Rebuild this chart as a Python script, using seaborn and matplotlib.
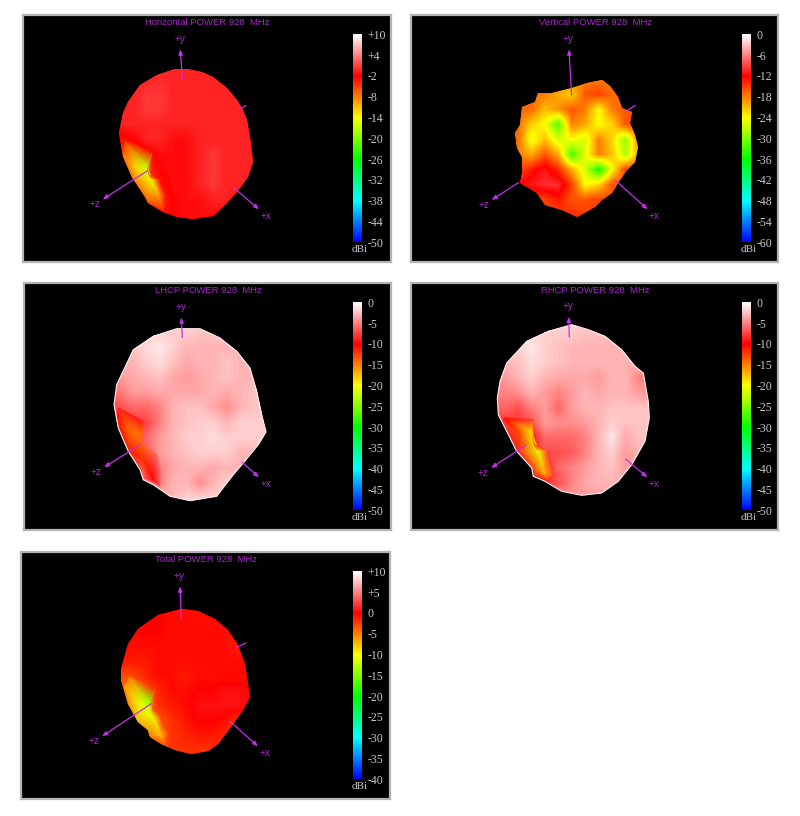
import numpy as np
import pandas as pd
import seaborn as sns
import matplotlib
matplotlib.use('Agg')
import matplotlib.pyplot as plt
from matplotlib.colors import LinearSegmentedColormap
from matplotlib.patches import Polygon

# dB, columns x=300..740 step 40, rows y=162..657 step 45
# (x, y are in px of the 3x crops of each panel)
horizontal_db = [
    [-0.5, -0.5, -0.5, -0.5, -0.5, -0.5, -0.5, -0.5, -0.5, -0.5, -0.5, -0.5],
    [-0.5, -0.5, -0.5, 0, -0.5, -0.5, -0.5, -0.5, -0.5, -0.5, -0.5, -0.5],
    [-0.5, -0.5, 0.5, 0.5, -0.5, -0.5, -0.5, -0.5, -0.5, -0.5, -0.5, -0.5],
    [-0.5, -0.5, 0.5, 0.5, -0.5, -0.5, -0.5, -0.5, -0.5, -0.5, -0.5, -0.5],
    [-0.5, -0.5, -0.5, -0.5, -0.5, -0.5, -0.5, -0.5, -0.5, -0.5, -0.5, -0.5],
    [-3, -2, -0.5, -0.5, -1.5, -1.5, -0.5, -0.5, -0.5, -0.5, -0.5, -0.5],
    [-5, -5, -3, -1.5, -1.5, -1.5, -0.5, 0.5, -0.5, -0.5, -0.5, -0.5],
    [-6, -7, -5, -2, -1.5, -1.5, -0.5, 0.5, -0.5, -0.5, -0.5, -0.5],
    [-6, -7, -6, -3, -1.5, -1.5, -0.5, 0.5, -0.5, -0.5, -0.5, -0.5],
    [-5, -5, -5, -4, -2, -1.5, -1.5, -0.5, -0.5, -1.5, -1.5, -1.5],
    [-3, -3, -3, -3, -2, -1.5, -1.5, -1.5, -1.5, -1.5, -1.5, -1.5],
    [-3, -3, -3, -3, -2, -1.5, -1.5, -1.5, -1.5, -1.5, -1.5, -1.5],
]
vertical_db = [
    [-18, -18, -18, -18, -18, -18, -18, -18, -18, -18, -18, -18],
    [-18, -18, -18, -18, -18, -18, -18, -18, -18, -18, -18, -18],
    [-17, -17, -17, -18, -20, -22, -16, -15, -17, -17, -17, -17],
    [-17, -17, -17, -21, -19, -16, -18, -24, -18, -16, -16, -16],
    [-17, -17, -22, -24, -32, -18, -20, -24, -22, -16, -16, -16],
    [-17, -17, -25, -21, -26, -24, -26, -18, -22, -29, -18, -18],
    [-18, -18, -20, -16, -20, -33, -25, -18, -21, -28, -19, -19],
    [-16, -16, -13, -11, -14, -20, -26, -35, -24, -15, -17, -17],
    [-12, -12, -11, -10, -10, -15, -24, -22, -16, -16, -16, -16],
    [-14, -14, -15, -15, -13, -16, -16, -15, -16, -16, -16, -16],
    [-15, -15, -15, -15, -15, -14, -15, -15, -15, -15, -15, -15],
    [-15, -15, -15, -15, -15, -14, -15, -15, -15, -15, -15, -15],
]
lhcp_db = [
    [-2, -2, -2, -2, -2, -2, -2.5, -2.5, -2.5, -3, -3, -3],
    [-2.5, -2.5, -1.5, -1, -2, -3, -3, -3, -3, -3, -3, -3],
    [-3, -3, -2, -1.5, -2.5, -3.5, -3, -3, -2.5, -3, -3, -3],
    [-4, -3.5, -3, -2.5, -3.5, -4, -3.5, -3, -2.5, -3, -3, -3],
    [-5.5, -4, -4, -3.5, -3.5, -3.5, -3.5, -3, -3.5, -3, -2.5, -2.5],
    [-7, -6, -6, -5, -3, -2.5, -2.5, -3.5, -4.5, -3, -2.5, -2.5],
    [-8, -8, -7.5, -5, -3, -2.5, -2, -2, -3, -2, -2, -2],
    [-8, -8, -6, -4, -3, -2, -2, -1.5, -2, -2, -2, -2],
    [-8, -8, -6.5, -4, -3, -2.5, -2, -2, -2, -3, -3, -3],
    [-8, -8, -7, -5, -3.5, -3, -3, -3.5, -3, -3, -3, -3],
    [-6, -6, -6, -5, -3, -3, -4.5, -3, -2, -2, -2, -2],
    [-3, -3, -3, -3, -3, -2, -2, -2, -2, -2, -2, -2],
]
rhcp_db = [
    [-2, -2, -2, -2, -2, -2, -2.5, -2.5, -3, -3, -3, -3],
    [-2, -2, -1, -2, -2.5, -3, -3, -3, -3, -3, -3, -3],
    [-3, -2.5, -1.5, -2, -2.5, -3, -3, -3, -3, -3, -3, -3],
    [-4, -3, -2, -3, -3.5, -3.5, -3.5, -4, -3, -3, -5, -5],
    [-5, -4.5, -3, -4, -5, -4, -3, -3.5, -3, -3, -4, -4],
    [-6, -7, -5, -4, -6, -4, -3, -3, -2.5, -2.5, -2.5, -2.5],
    [-8, -8, -7, -4, -4.5, -4.5, -4, -3, -2, -2.5, -2.5, -2.5],
    [-8, -9, -9, -6, -6, -6, -5, -3, -1, -3.5, -2.5, -2.5],
    [-8, -9, -8, -7, -7, -6.5, -5, -3, -2, -4, -3, -3],
    [-8, -8, -8, -8, -6, -5, -4, -3, -2.5, -4, -4, -4],
    [-8, -8, -8, -8, -7, -5, -3.5, -3, -3, -3, -3, -3],
    [-4, -4, -4, -4, -4, -4, -4, -4, -4, -4, -4, -4],
]
total_db = [
    [-0.5, -0.5, -0.5, -0.5, -0.5, -0.5, -0.5, -0.5, -0.5, -0.5, -0.5, -0.5],
    [-0.5, -0.5, -0.5, 0, -0.5, -0.5, -0.5, -0.5, -0.5, -0.5, -0.5, -0.5],
    [-0.5, -0.5, 0, 0, -0.5, -0.5, -0.5, -0.5, -0.5, -0.5, -0.5, -0.5],
    [-0.5, -0.5, -0.5, -0.5, -0.5, -0.5, -0.5, -0.5, -0.5, -1, -2, -2],
    [-1, -1, -1, -0.5, -0.5, -0.5, -0.5, -0.5, -0.5, -0.5, -0.5, -0.5],
    [-3, -3, -1.5, -0.5, -0.5, -1, -0.5, -0.5, -0.5, -0.5, -0.5, -0.5],
    [-5, -5, -4, -1.5, -0.5, -0.5, 0, 0, 0.5, 0.5, 0, 0],
    [-5, -6, -6, -2, -1, -0.5, 0.5, 0.5, 0.5, 0.5, 0, 0],
    [-5, -6, -6, -4, -2, -1, 0, 0, -0.5, -2, -1, -1],
    [-5, -5, -5, -4, -2, -1.5, -1, -1, -1.5, -3, -2, -2],
    [-3, -3, -3, -3, -2, -2, -2, -2, -2, -2, -2, -2],
    [-2, -2, -2, -2, -2, -2, -2, -2, -2, -2, -2, -2],
]

# outlines of the bodies, crop px
horizontal_edge = [(465, 178), (500, 176), (545, 185), (580, 200), (620, 235), (650, 270), (668, 300), (680, 330), (690, 380), (700, 455), (685, 500), (650, 545), (610, 590), (580, 618), (520, 628), (470, 620), (430, 605), (385, 580), (375, 560), (335, 500), (310, 440), (298, 370), (310, 310), (325, 275), (360, 225), (410, 195)]
vertical_edge = [(400, 250), (440, 248), (500, 235), (545, 220), (590, 210), (615, 228), (640, 262), (650, 295), (680, 305), (675, 340), (690, 375), (700, 410), (690, 455), (665, 480), (640, 520), (620, 550), (590, 570), (570, 590), (515, 620), (470, 600), (420, 585), (395, 550), (345, 520), (350, 490), (350, 440), (335, 415), (330, 370), (345, 345), (350, 290), (390, 275)]
lhcp_edge = [(470, 152), (540, 152), (600, 180), (650, 220), (690, 270), (710, 340), (725, 410), (738, 462), (715, 500), (670, 555), (640, 590), (590, 655), (510, 668), (450, 655), (400, 620), (370, 605), (360, 575), (325, 520), (295, 450), (282, 380), (290, 320), (340, 215), (400, 175)]
rhcp_edge = [(500, 140), (550, 155), (600, 175), (650, 215), (690, 265), (715, 285), (730, 370), (733, 420), (720, 490), (680, 560), (640, 610), (590, 645), (530, 652), (470, 640), (420, 610), (385, 595), (380, 570), (335, 520), (300, 450), (280, 410), (277, 360), (285, 310), (305, 255), (365, 190), (430, 160)]
total_edge = [(490, 187), (540, 192), (590, 215), (630, 250), (660, 295), (680, 350), (695, 450), (675, 490), (640, 540), (600, 590), (570, 612), (520, 620), (470, 610), (430, 590), (395, 570), (390, 550), (360, 525), (330, 470), (310, 400), (308, 365), (330, 290), (360, 245), (420, 205)]

# the creased null near +z: (x, y, dB) per vertex, same triangles in each panel
horizontal_null = [(316, 395, -5), (381, 470, -17), (398, 425, -2), (388, 495, -5), (345, 470, -12), (310, 440, -7), (340, 510, -8), (395, 510, -15), (415, 550, -10), (380, 575, -6), (430, 600, -4), (420, 510, -2), (440, 560, -2)]
lhcp_null = [(295, 390, -9), (365, 475, -15), (370, 430, -9), (360, 495, -14), (325, 460, -14), (290, 440, -10), (325, 520, -11), (365, 535, -12), (400, 605, -10), (370, 600, -6), (420, 625, -6), (410, 530, -6), (425, 580, -5)]
rhcp_null = [(300, 420, -10), (380, 465, -19), (385, 425, -8), (388, 500, -12), (345, 470, -13), (290, 430, -8), (335, 520, -9), (400, 520, -21), (418, 585, -17), (385, 590, -9), (430, 610, -9), (430, 520, -8), (450, 590, -8)]
total_null = [(335, 390, -5), (395, 465, -14), (410, 425, -1.5), (400, 490, -6), (365, 470, -11), (320, 420, -6), (355, 520, -7), (405, 510, -11), (430, 565, -7), (395, 565, -5), (440, 595, -3), (430, 510, -2), (455, 560, -2)]
null_tri = [(0, 2, 1), (0, 1, 4), (0, 4, 5), (5, 4, 6), (4, 1, 7), (4, 7, 6), (1, 2, 3), (1, 3, 7), (3, 11, 7),
            (7, 11, 8), (11, 12, 8), (8, 12, 10), (8, 10, 9), (7, 8, 9), (6, 7, 9)]

titles = ['Horizontal POWER 928  MHz', 'Vertical POWER 928  MHz', 'LHCP POWER 928  MHz',
          'RHCP POWER 928  MHz', 'Total POWER 928  MHz']
horizontal_ticks = ['+10', '+4', '-2', '-8', '-14', '-20', '-26', '-32', '-38', '-44', '-50']
vertical_ticks = ['0', '-6', '-12', '-18', '-24', '-30', '-36', '-42', '-48', '-54', '-60']
cp_ticks = ['0', '-5', '-10', '-15', '-20', '-25', '-30', '-35', '-40', '-45', '-50']
total_ticks = ['+10', '+5', '0', '-5', '-10', '-15', '-20', '-25', '-30', '-35', '-40']

TEXT_PURPLE = '#a828c8'
ARROW = '#c430e8'
FRAME = '#b4b4b4'

cmap = LinearSegmentedColormap.from_list('power', [(0, '#0000ff'), (0.2, '#00ffff'), (0.4, '#00ff00'),
                                                   (0.6, '#ffff00'), (0.8, '#ff0000'), (1, '#ffffff')])

# crop origin, frame l/r, colorbar l/r, axis arrows, stub
panels = [
    dict(values=horizontal_db, edge=horizontal_edge, null=horizontal_null, rim=False, ticks=horizontal_ticks,
         title=titles[0], org=(20, 10), frame=(8, 1112), bar=(1000, 1027), y=((487, 208), (481, 118)),
         z=((383, 482), (248, 568)), x=((640, 532), (717, 598)), stub=((660, 297), (678, 287))),
    dict(values=vertical_db, edge=vertical_edge, null=None, rim=False, ticks=vertical_ticks,
         title=titles[1], org=(405, 10), frame=(18, 1118), bar=(1012, 1038), y=((500, 258), (492, 118)),
         z=((340, 518), (260, 570)), x=((630, 510), (728, 598)), stub=((665, 302), (690, 287))),
    dict(values=lhcp_db, edge=lhcp_edge, null=lhcp_null, rim=True, ticks=cp_ticks,
         title=titles[2], org=(20, 278), frame=(12, 1112), bar=(1000, 1027), y=((487, 178), (484, 118)),
         z=((360, 500), (252, 568)), x=((667, 553), (717, 598)), stub=None),
    dict(values=rhcp_db, edge=rhcp_edge, null=rhcp_null, rim=True, ticks=cp_ticks,
         title=titles[3], org=(405, 278), frame=(18, 1118), bar=(1012, 1038), y=((493, 177), (491, 116)),
         z=((362, 502), (258, 570)), x=((662, 543), (727, 598)), stub=None),
    dict(values=total_db, edge=total_edge, null=total_null, rim=False, ticks=total_ticks,
         title=titles[4], org=(18, 547), frame=(10, 1116), bar=(1005, 1032), y=((490, 215), (486, 118)),
         z=((400, 470), (252, 568)), x=((635, 522), (720, 598)), stub=((655, 302), (683, 288))),
]

fig = plt.figure(figsize=(8, 8.16), dpi=100, facecolor='white')


def place(org, left, right, top, bottom):
    # crop px -> figure fraction
    x0 = (org[0] + left / 3) / 800
    x1 = (org[0] + right / 3) / 800
    y0 = 1 - (org[1] + bottom / 3) / 816
    y1 = 1 - (org[1] + top / 3) / 816
    return [x0, y0, x1 - x0, y1 - y0]


def tick_value(label):
    return float(label.replace('+', ''))


for p in panels:
    org = p['org']
    left, right = p['frame']

    back = fig.add_axes(place(org, left, right, 15, 757), facecolor='black', zorder=0)
    back.set_xticks([])
    back.set_yticks([])
    for s in back.spines.values():
        s.set_color(FRAME)
        s.set_linewidth(1.6)

    # overlay in crop px for arrows and texts
    top_ax = fig.add_axes(place(org, left, right, 15, 757), facecolor='none', zorder=3)
    top_ax.set_xlim(left, right)
    top_ax.set_ylim(757, 15)
    top_ax.axis('off')

    heat_ax = fig.add_axes(place(org, 280, 760, 140, 680), zorder=1)
    heat_ax.patch.set_visible(False)
    cax = fig.add_axes(place(org, p['bar'][0], p['bar'][1], 73, 697), zorder=2)

    vals = [tick_value(t) for t in p['ticks']]
    df = pd.DataFrame(p['values'])
    sns.heatmap(df, cmap=cmap, vmin=vals[-1], vmax=vals[0], ax=heat_ax, cbar_ax=cax,
                xticklabels=False, yticklabels=False, cbar_kws={'ticks': vals})

    body = Polygon(p['edge'], closed=True, transform=top_ax.transData)
    mesh = heat_ax.collections[0]
    mesh.set_clip_path(body)
    # same cells, smoothed by the renderer and put over the mesh
    im = heat_ax.imshow(df.values, cmap=cmap, vmin=vals[-1], vmax=vals[0], interpolation='bilinear',
                        extent=(0, df.shape[1], df.shape[0], 0), aspect='auto', zorder=2)
    im.set_clip_path(body)
    heat_ax.set_xlim(0, df.shape[1])
    heat_ax.set_ylim(df.shape[0], 0)
    heat_ax.axis('off')

    if p['null'] is not None:
        nx, ny, ndb = zip(*p['null'])
        tri = top_ax.tripcolor(nx, ny, null_tri, ndb, shading='gouraud', cmap=cmap, vmin=vals[-1], vmax=vals[0],
                               zorder=1)
        tri.set_clip_path(body)
    if p['rim']:
        top_ax.add_patch(Polygon(p['edge'], closed=True, fill=False, ec='#fff0f0', lw=0.8, zorder=1.5))

    cax.set_yticklabels(p['ticks'], family='Liberation Serif', fontsize=8.5, color='#c8c8c8')
    cax.tick_params(length=0, pad=4)
    mesh.colorbar.outline.set_visible(False)

    top_ax.text((left + right) / 2 + 2, 37, p['title'], color=TEXT_PURPLE, fontsize=6.8, ha='center', va='center',
                family='Liberation Sans')
    top_ax.text(p['bar'][0] + 20, 718, 'dBi', color='#c8c8c8', fontsize=8, ha='center', va='center',
                family='Liberation Serif')

    for name in ['y', 'z', 'x']:
        start, end = p[name]
        top_ax.annotate('', xy=end, xytext=start,
                        arrowprops=dict(arrowstyle='-|>,head_width=0.12,head_length=0.3', color=ARROW, lw=0.9,
                                        shrinkA=0, shrinkB=0))
        # labels sit a little beyond the tip
        off = {'y': (-2, -32), 'z': (-23, 15), 'x': (20, 19)}[name]
        top_ax.text(end[0] + off[0], end[1] + off[1], '+' + name, color=TEXT_PURPLE, fontsize=7.2, ha='center',
                    va='center', family='Liberation Sans')
    if p['stub'] is not None:
        top_ax.plot(*zip(*p['stub']), color=ARROW, lw=0.9)
    top_ax.set_xlim(left, right)
    top_ax.set_ylim(757, 15)

fig.savefig('out.png', dpi=100)
